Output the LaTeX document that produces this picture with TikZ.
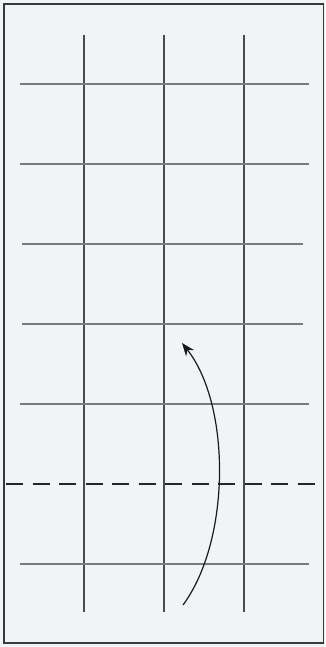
\documentclass[tikz,border=0pt]{standalone}
\usetikzlibrary{arrows.meta}
\definecolor{bgc}{HTML}{F2F3F5}
\definecolor{hgrid}{HTML}{7A7A7A}
\definecolor{vgrid}{HTML}{4A4A4A}
\definecolor{frame}{HTML}{3A3A3A}
\begin{document}
\begin{tikzpicture}[x=1pt,y=-1pt,
  hline/.style={draw=hgrid,line width=1.2pt},
  vline/.style={draw=vgrid,line width=1.1pt},
  cutline/.style={draw=black!85,line width=2pt,dash pattern=on 17pt off 9.5pt},
  flow/.style={draw=black!90,line width=1.2pt,-{Stealth[length=13pt,width=10pt]}}]
\useasboundingbox (0,0) rectangle (325,647);
\fill[bgc] (0,0) rectangle (325,647);
\draw[frame,line width=1.6pt] (4,4) rectangle (323.5,643);
% vertical lines
\foreach \x in {84,164,244} \draw[vline] (\x,35) -- (\x,612);
% horizontal lines
\foreach \y/\a/\b in {84/20/309,164/20/309,244/22/303,324/22/303,404/20/309,564/20/309}
  \draw[hline] (\a,\y) -- (\b,\y);
% dashed cut line
\coordinate (dl) at (6,484);
\coordinate (dr) at (320,484);
\draw[cutline] (dl) -- (dr);
% curved arrow
\coordinate (s) at (183,605);
\coordinate (e) at (182,343);
\draw[flow] (s) .. controls (231,540) and (231,405) .. (e);
\end{tikzpicture}
\end{document}
